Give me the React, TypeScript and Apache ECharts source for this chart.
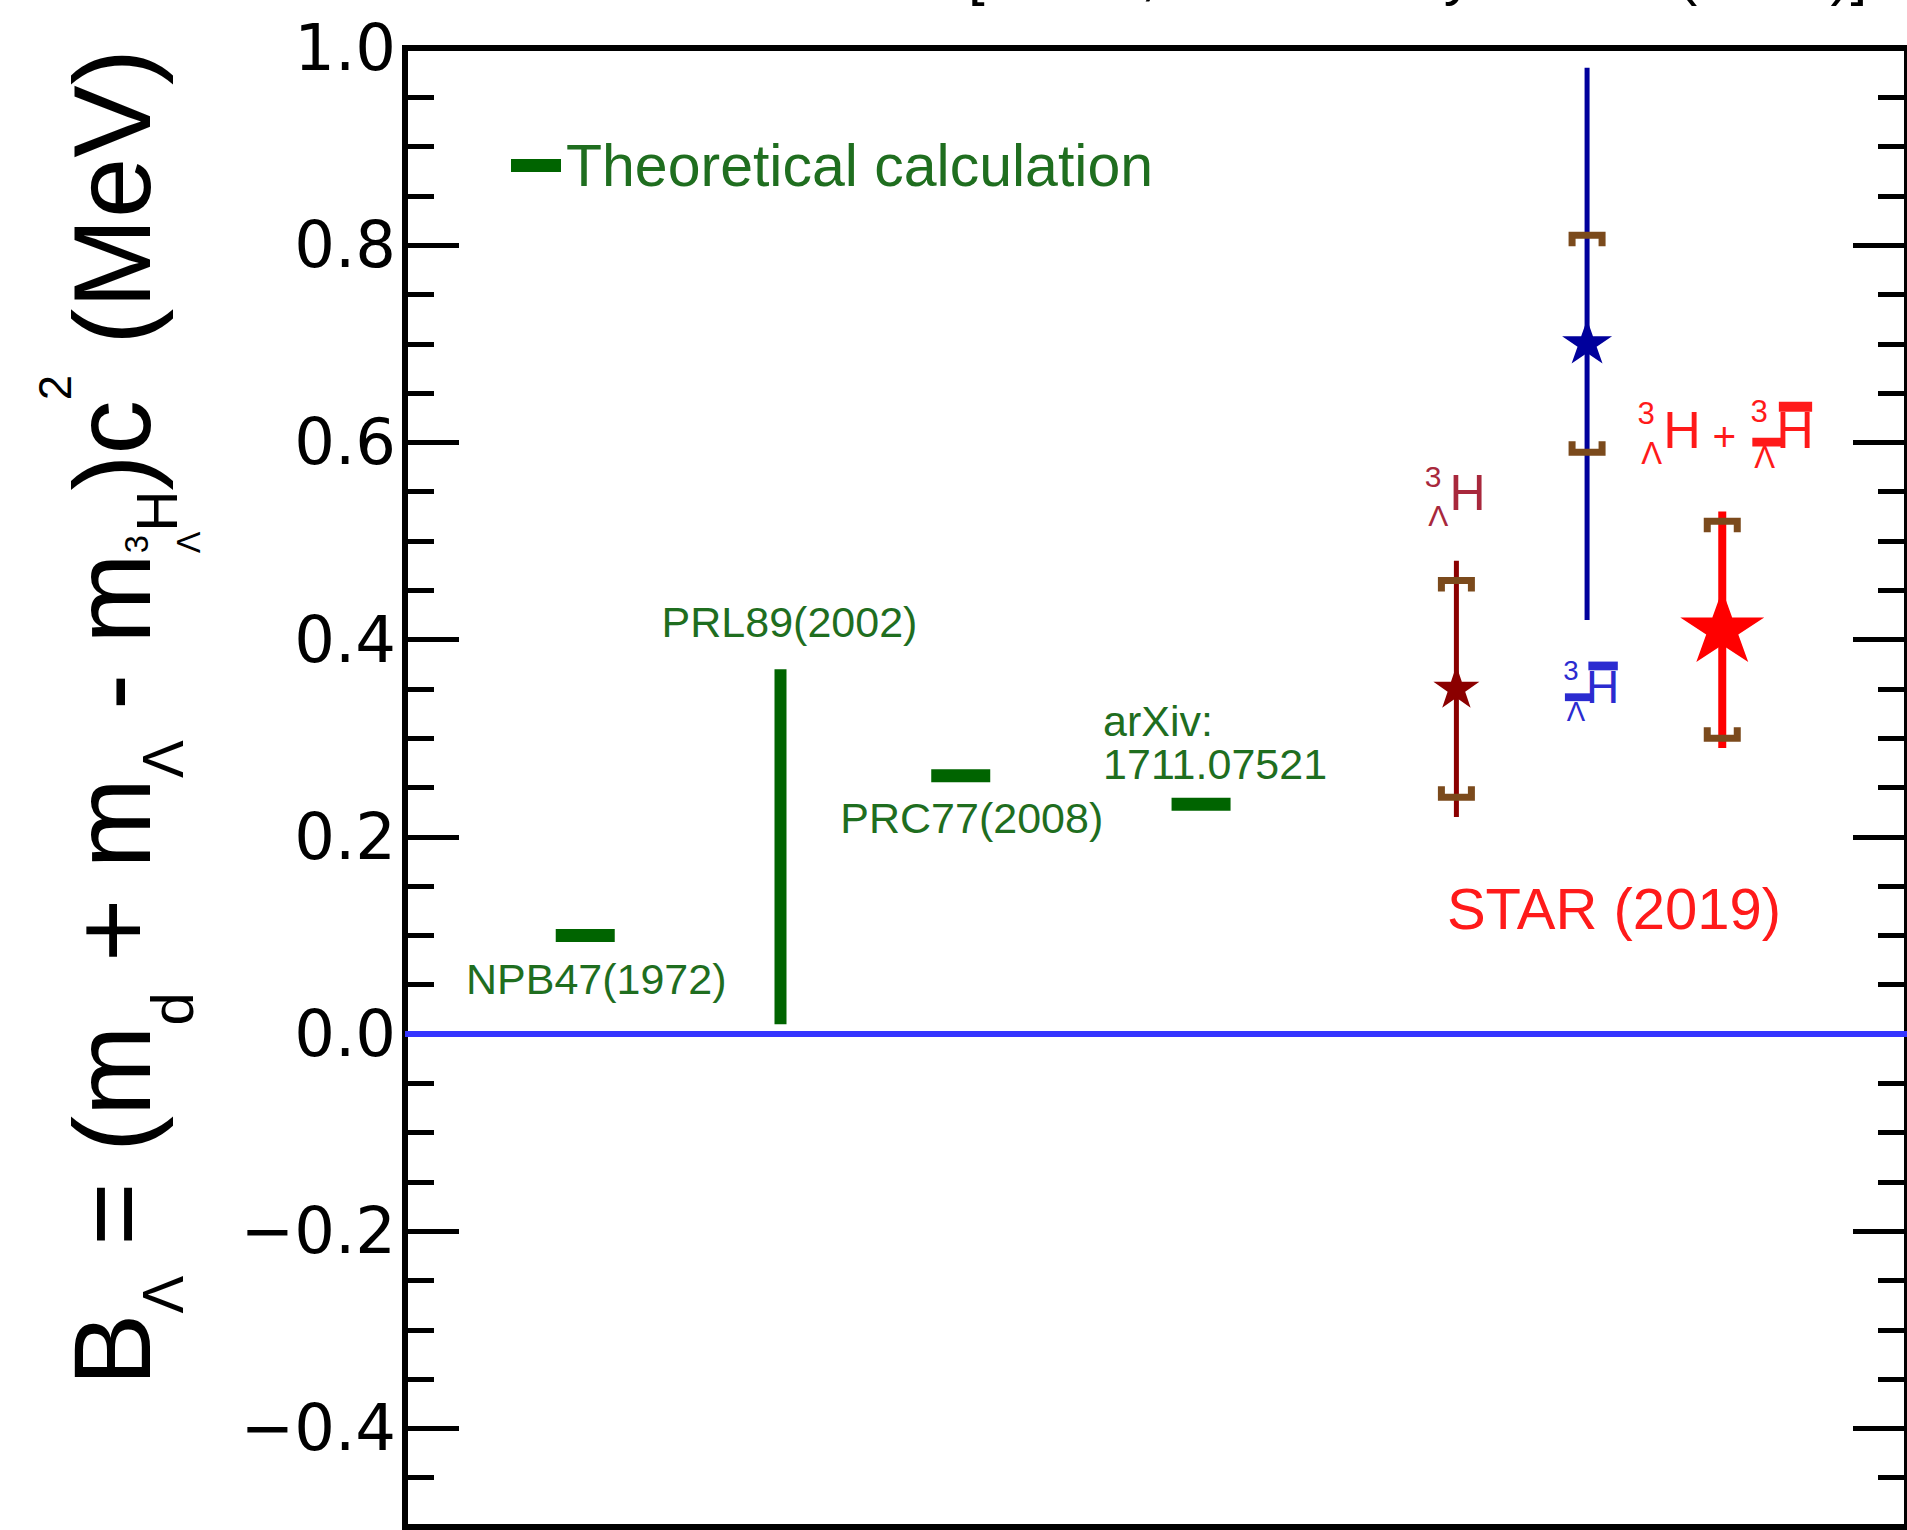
import React, { useEffect, useRef } from "react";
import * as echarts from "echarts";

// ---------------- data ----------------
const theoryLabels = ["NPB47(1972)", "PRL89(2002)", "PRC77(2008)", "arXiv:\n1711.07521"];
const theoryX = [1.2, 2.5, 3.7, 5.3];
const theoryLow = [0.1, 0.01, 0.262, 0.233];
const theoryHigh = [0.1, 0.37, 0.262, 0.233];

const starX = [7.0, 7.87, 8.77];
const starValue = [0.35, 0.7, 0.41];
const starStat = [0.13, 0.28, 0.12];
const starSys = [0.11, 0.11, 0.11];

const yMajorTicks = [-0.4, -0.2, 0.0, 0.2, 0.4, 0.6, 0.8, 1.0];
const yMinorStep = 0.05;
const yMin = -0.5;
const yMax = 1.0;
const xMin = 0;
const xMax = 10;

const legendName = "Theoretical calculation";
const experimentLabel = "STAR (2019)";
const topCaption = "[STAR, Nature Physics 16 (2020)]";

// ---------------- styles ----------------
const SANS = '"Liberation Sans", Arial, Helvetica, sans-serif';
const WIDE = '"DejaVu Sans", sans-serif';
const GREEN = "#006400";
const GREEN_TEXT = "#1f6e1f";
const BROWN = "#7b4a1c";
const ZERO_BLUE = "#3434ff";

const theoryLabelStyle = [
  { dx: 11, dy: 44, ref: "low", align: "center" },
  { dx: 9, dy: -47, ref: "high", align: "center" },
  { dx: 11, dy: 42, ref: "low", align: "center" },
  { dx: -98, dy: -62, ref: "low", align: "left" },
];

const starColors = ["#8b0000", "#00009c", "#ff0000"];
const starLabelColors = ["#a8283c", "#2b2bd0", "#ff1a1a"];
const starSizes = [
  [46, 42],
  [50, 44],
  [84, 72],
];
const starLineWidths = [5, 5, 8];
// label layout: F font size, hx offset of H from point x, cy offset from stat end
const starLabelStyle = [
  { F: 50, parts: [{ hx: -7, anti: false }], ref: "top", cy: -68 },
  { F: 46, parts: [{ hx: -1, anti: true }], ref: "bottom", cy: 67 },
  { F: 52, parts: [{ hx: -59, anti: false }, { hx: 54, anti: true }], plus: 2, ref: "top", cy: -81 },
];

const STAR_PATH =
  "path://M0,-100 L22.45,-30.9 L95.1,-30.9 L36.33,11.8 L58.8,80.9 L0,38.2 L-58.8,80.9 L-36.33,11.8 L-95.1,-30.9 L-22.45,-30.9 Z";

function txt(text: string, x: number, y: number, size: number, color: string, align: string, family = SANS, extra: any = {}) {
  return {
    type: "text",
    x,
    y,
    silent: true,
    style: {
      text,
      fill: color,
      fontSize: size,
      fontFamily: family,
      align,
      textAlign: align,
      verticalAlign: "middle",
      textVerticalAlign: "middle",
      ...extra,
    },
  };
}

function rectEl(x: number, y: number, w: number, h: number, color: string) {
  return { type: "rect", silent: true, shape: { x, y, width: w, height: h }, style: { fill: color } };
}

function nuclide(hx: number, cy: number, F: number, color: string, anti: boolean): any[] {
  const s = 0.6 * F;
  const els: any[] = [
    txt("H", hx, cy, F, color, "left"),
    txt("3", hx - 0.16 * F, cy - (anti ? 0.36 : 0.32) * F, s, color, "right"),
    txt("\u039B", hx - 0.02 * F, cy + (anti ? 0.53 : 0.45) * F, s, color, "right"),
  ];
  if (anti) {
    els.push(rectEl(hx + 0.05 * F, cy - 0.36 * F - 0.19 * F, 0.64 * F, 0.19 * F, color));
    els.push(rectEl(hx - 0.46 * F, cy + 0.14 * F, 0.62 * F, 0.17 * F, color));
  }
  return els;
}

function buildTitle(): any {
  const ctx = document.createElement("canvas").getContext("2d")!;
  const measure = (t: string, size: number) => {
    ctx.font = `${size}px ${SANS}`;
    return ctx.measureText(t).width;
  };
  type Tok = { t: string; k: number; dy: number };
  const toks: (Tok | { stack: Tok[] })[] = [
    { t: "B", k: 1, dy: 0 },
    { t: "\u039B", k: 0.52, dy: 0.3 },
    { t: " = (m", k: 1, dy: 0 },
    { t: "d", k: 0.55, dy: 0.4 },
    { t: " + m", k: 1, dy: 0 },
    { t: "\u039B", k: 0.52, dy: 0.3 },
    { t: " - m", k: 1, dy: 0 },
    { stack: [{ t: "3", k: 0.3, dy: -0.02 }, { t: "\u039B", k: 0.3, dy: 0.46 }] },
    { t: "H", k: 0.52, dy: 0.25 },
    { t: ")c", k: 1, dy: 0 },
    { t: "2", k: 0.42, dy: -0.72 },
    { t: " (MeV)", k: 1, dy: 0 },
  ];
  const widthAt = (F: number) =>
    toks.reduce((acc, tk: any) => {
      if (tk.stack) return acc + Math.max(...tk.stack.map((s: Tok) => measure(s.t, s.k * F)));
      return acc + measure(tk.t, tk.k * F);
    }, 0);
  const targetLength = 1337;
  const F = (100 * targetLength) / widthAt(100);
  const children: any[] = [];
  let x = 0;
  const put = (tk: Tok) => {
    const size = tk.k * F;
    children.push(txt(tk.t, x, tk.dy * F - 0.3465 * size, size, "#000", "left"));
    return measure(tk.t, size);
  };
  toks.forEach((tk: any) => {
    if (tk.stack) {
      const ws = tk.stack.map((s: Tok) => put(s));
      x += Math.max(...ws);
    } else {
      x += put(tk);
    }
  });
  return { type: "group", x: 150, y: 1386, rotation: Math.PI / 2, children };
}

function minorTicks(): number[] {
  const out: number[] = [];
  const n = Math.round((yMax - yMin) / yMinorStep);
  for (let i = 0; i <= n; i++) out.push(+(yMin + i * yMinorStep).toFixed(2));
  return out;
}

function fmtTick(v: number) {
  const s = Math.abs(v).toFixed(1);
  return v < -1e-9 ? "\u2212" + s : s;
}

function yAxisDef(position: string, ticks: number[], length: number, labels: boolean): any {
  return {
    type: "value",
    position,
    min: yMin,
    max: yMax,
    axisLine: { show: false },
    splitLine: { show: false },
    axisTick: {
      show: true,
      inside: true,
      length,
      customValues: ticks,
      lineStyle: { color: "#000", width: 5 },
    },
    axisLabel: labels
      ? {
          show: true,
          customValues: yMajorTicks,
          formatter: (v: number) => fmtTick(v),
          fontSize: 64,
          fontFamily: WIDE,
          color: "#000",
          margin: 9,
        }
      : { show: false },
  };
}

export default function App() {
  const ref = useRef<HTMLDivElement>(null);
  useEffect(() => {
    document.body.style.margin = "0";
    if (!ref.current) return;
    const chart = echarts.init(ref.current, undefined, { renderer: "svg" });
    const minors = minorTicks();

    const option: any = {
      animation: false,
      backgroundColor: "#fff",
      grid: {
        left: 405,
        top: 48,
        width: 1505,
        height: 1479,
        show: true,
        borderColor: "#000",
        borderWidth: 6,
        backgroundColor: "transparent",
      },
      legend: {
        data: [{ name: legendName, icon: "rect" }],
        left: 511,
        top: 136,
        padding: 0,
        itemWidth: 50,
        itemHeight: 13,
        selectedMode: false,
        textStyle: { fontSize: 59, color: GREEN_TEXT, fontFamily: SANS, lineHeight: 59 },
      },
      xAxis: { type: "value", min: xMin, max: xMax, show: false },
      yAxis: [
        yAxisDef("left", yMajorTicks, 54, true),
        yAxisDef("left", minors, 29, false),
        yAxisDef("right", yMajorTicks, 54, false),
        yAxisDef("right", minors, 29, false),
      ],
      graphic: [
        buildTitle(),
        txt(topCaption, 968, -27, 60, "#000", "left"),
        txt(experimentLabel, 1614, 908, 58, "#ff1a1a", "center"),
      ],
      series: [
        {
          name: legendName,
          type: "custom",
          color: GREEN,
          itemStyle: { color: GREEN },
          data: theoryX.map((x, i) => [x, theoryLow[i], theoryHigh[i]]),
          encode: { x: 0, y: [1, 2] },
          renderItem: (params: any, api: any) => {
            const i = params.dataIndex;
            const x = api.value(0);
            const lo = api.value(1);
            const hi = api.value(2);
            const pLo = api.coord([x, lo]);
            const pHi = api.coord([x, hi]);
            const children: any[] = [];
            if (hi - lo > 0.02) {
              children.push(rectEl(pLo[0] - 6, pHi[1], 12, pLo[1] - pHi[1], GREEN));
            } else {
              children.push(rectEl(pLo[0] - 29.5, pLo[1] - 6.5, 59, 13, GREEN));
            }
            const ls = theoryLabelStyle[i];
            const anchor = ls.ref === "low" ? pLo : pHi;
            children.push(
              txt(theoryLabels[i], anchor[0] + ls.dx, anchor[1] + ls.dy, 43, GREEN_TEXT, ls.align, SANS, {
                lineHeight: 43,
              })
            );
            return { type: "group", children };
          },
        },
        {
          name: "STAR errors",
          type: "custom",
          data: starX.map((x, i) => [x, starValue[i], starStat[i], starSys[i]]),
          encode: { x: 0, y: 1 },
          z: 3,
          renderItem: (params: any, api: any) => {
            const i = params.dataIndex;
            const x = api.value(0);
            const v = api.value(1);
            const st = api.value(2);
            const sy = api.value(3);
            const top = api.coord([x, v + st]);
            const bot = api.coord([x, v - st]);
            const sTop = api.coord([x, v + sy]);
            const sBot = api.coord([x, v - sy]);
            const hw = 15;
            const leg = 11;
            const children: any[] = [
              {
                type: "line",
                silent: true,
                shape: { x1: top[0], y1: top[1], x2: bot[0], y2: bot[1] },
                style: { stroke: starColors[i], lineWidth: starLineWidths[i] },
              },
              {
                type: "polyline",
                silent: true,
                shape: {
                  points: [
                    [sTop[0] - hw, sTop[1] + leg],
                    [sTop[0] - hw, sTop[1]],
                    [sTop[0] + hw, sTop[1]],
                    [sTop[0] + hw, sTop[1] + leg],
                  ],
                },
                style: { stroke: BROWN, lineWidth: 7, fill: null },
              },
              {
                type: "polyline",
                silent: true,
                shape: {
                  points: [
                    [sBot[0] - hw, sBot[1] - leg],
                    [sBot[0] - hw, sBot[1]],
                    [sBot[0] + hw, sBot[1]],
                    [sBot[0] + hw, sBot[1] - leg],
                  ],
                },
                style: { stroke: BROWN, lineWidth: 7, fill: null },
              },
            ];
            const ls: any = starLabelStyle[i];
            const anchor = ls.ref === "top" ? top : bot;
            const cy = anchor[1] + ls.cy;
            ls.parts.forEach((p: any) => {
              children.push(...nuclide(anchor[0] + p.hx, cy, ls.F, starLabelColors[i], p.anti));
            });
            if (ls.plus !== undefined) {
              children.push(txt("+", anchor[0] + ls.plus, cy + 0.12 * ls.F, 0.78 * ls.F, starLabelColors[i], "center"));
            }
            return { type: "group", children };
          },
        },
        {
          name: "STAR",
          type: "scatter",
          z: 5,
          data: starX.map((x, i) => ({
            value: [x, starValue[i]],
            symbol: STAR_PATH,
            symbolSize: starSizes[i],
            symbolOffset: [0, -0.0528 * starSizes[i][1]],
            itemStyle: { color: starColors[i], opacity: 1 },
          })),
          markLine: {
            silent: true,
            symbol: "none",
            label: { show: false },
            lineStyle: { color: ZERO_BLUE, width: 6, type: "solid" },
            data: [{ yAxis: 0 }],
          },
        },
      ],
    };
    chart.setOption(option);
    return () => chart.dispose();
  }, []);
  return <div ref={ref} style={{ width: 1907, height: 1530 }} />;
}
